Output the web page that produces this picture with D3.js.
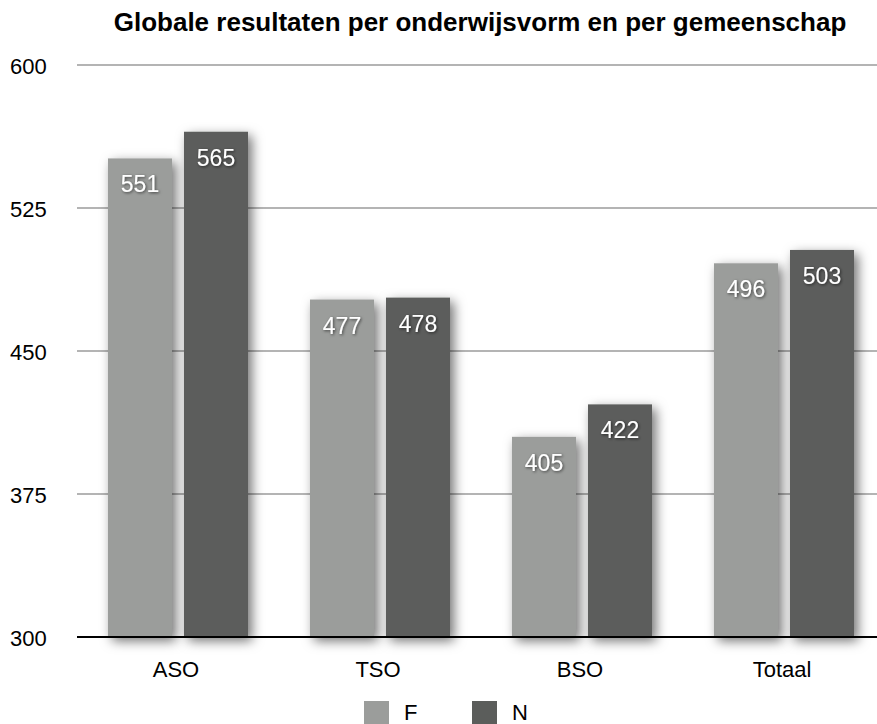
<!DOCTYPE html>
<html>
<head>
<meta charset="utf-8">
<script src="https://cdn.jsdelivr.net/npm/d3@7"></script>
<style>
  body { margin: 0; background: #fff; }
  svg { display: block; font-family: "Liberation Sans", Arial, Helvetica, sans-serif; }
</style>
</head>
<body>
<svg id="chart" width="877" height="724"></svg>
<script>
const categories = ['ASO', 'TSO', 'BSO', 'Totaal']
const series = ['F', 'N']
const valuesF = [551, 477, 405, 496]
const valuesN = [565, 478, 422, 503]
const yTicks = [300, 375, 450, 525, 600]
const colors = {F: '#9b9d9b', N: '#5b5d5b'}

const svg = d3.select('#chart')
const width = +svg.attr('width')

// shadows
const defs = svg.append('defs')
const shadow = defs.append('filter').attr('id', 'barShadow')
    .attr('x', '-30%').attr('y', '-30%').attr('width', '170%').attr('height', '160%')
shadow.append('feDropShadow').attr('dx', 4).attr('dy', 4).attr('stdDeviation', 6)
    .attr('flood-color', '#000').attr('flood-opacity', 0.55)
const txtShadow = defs.append('filter').attr('id', 'txtShadow')
    .attr('x', '-20%').attr('y', '-20%').attr('width', '140%').attr('height', '140%')
txtShadow.append('feDropShadow').attr('dx', 1).attr('dy', 1).attr('stdDeviation', 1.5)
    .attr('flood-color', '#000').attr('flood-opacity', 0.6)

const y = d3.scaleLinear().domain([300, 600]).range([637, 65])
const x = d3.scaleBand().domain(categories).range([75, 883])
const x1 = d3.scaleBand().domain(series).range([-68, 72]).paddingInner(0.158)

// title
svg.append('text')
    .attr('x', 480).attr('y', 31)
    .attr('text-anchor', 'middle')
    .attr('font-weight', 'bold')
    .attr('font-size', 26)
    .text('Globale resultaten per onderwijsvorm en per gemeenschap')

// grid
svg.append('g').selectAll('line')
    .data(yTicks.filter(d => d !== 300))
    .enter().append('line')
    .attr('x1', 77).attr('x2', width)
    .attr('y1', d => y(d)).attr('y2', d => y(d))
    .attr('stroke', '#b4b4b4').attr('stroke-width', 2)

// y labels
svg.append('g').selectAll('text')
    .data(yTicks)
    .enter().append('text')
    .attr('x', 10).attr('y', d => y(d) + 9)
    .attr('font-size', 22)
    .text(d => d)

// bars
const rows = []
categories.forEach((c, i) => {
    rows.push({cat: c, s: 'F', v: valuesF[i]})
    rows.push({cat: c, s: 'N', v: valuesN[i]})
})
const cx = c => x(c) + x.bandwidth() / 2

svg.append('g').selectAll('rect')
    .data(rows)
    .enter().append('rect')
    .attr('x', d => cx(d.cat) + x1(d.s))
    .attr('y', d => y(d.v))
    .attr('width', x1.bandwidth())
    .attr('height', d => y(300) - y(d.v))
    .attr('fill', d => colors[d.s])
    .attr('filter', 'url(#barShadow)')

svg.append('g').selectAll('text')
    .data(rows)
    .enter().append('text')
    .attr('x', d => cx(d.cat) + x1(d.s) + x1.bandwidth() / 2)
    .attr('y', d => y(d.v) + 34)
    .attr('text-anchor', 'middle')
    .attr('font-size', 23)
    .attr('fill', '#fff')
    .attr('filter', 'url(#txtShadow)')
    .text(d => d.v)

// x axis line
svg.append('line')
    .attr('x1', 77).attr('x2', width)
    .attr('y1', y(300)).attr('y2', y(300))
    .attr('stroke', '#000').attr('stroke-width', 2)

// category labels
svg.append('g').selectAll('text')
    .data(categories)
    .enter().append('text')
    .attr('x', d => cx(d)).attr('y', 677)
    .attr('text-anchor', 'middle')
    .attr('font-size', 22)
    .text(d => d)

// legend
const legend = svg.append('g').selectAll('g')
    .data(series)
    .enter().append('g')
    .attr('transform', (d, i) => 'translate(' + (364 + i * 108) + ',701)')
legend.append('rect').attr('width', 25).attr('height', 25).attr('fill', d => colors[d])
legend.append('text').attr('x', 40).attr('y', 19).attr('font-size', 22).text(d => d)
</script>
</body>
</html>
